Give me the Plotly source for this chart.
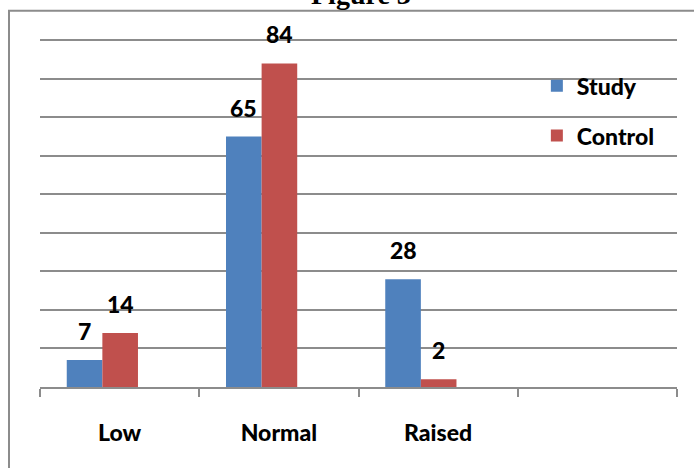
import plotly.graph_objects as go

# Category names and series values
categories = ["Low", "Normal", "Raised"]
study = [7, 65, 28]
control = [14, 84, 2]
n_slots = 4  # fourth slot on the axis is left empty

BLUE = "#4F81BD"
RED = "#C0504D"
GRID = "#8C8C8C"
FONT = "Lato"
WEIGHT = 900

centers = [i + 0.5 for i in range(len(categories))]
bar_w = 0.2236
off_study = -0.332
off_control = off_study + bar_w

fig = go.Figure()
fig.add_trace(go.Bar(
    name="Study", x=centers, y=study, width=bar_w, offset=off_study,
    marker=dict(color=BLUE, line=dict(width=0)), legendgroup="a",
))
fig.add_trace(go.Bar(
    name="Control", x=centers, y=control, width=bar_w, offset=off_control,
    marker=dict(color=RED, line=dict(width=0)), legendgroup="b",
))

# Value labels above each bar
annotations = []
for vals, off in ((study, off_study), (control, off_control)):
    for c, v in zip(centers, vals):
        annotations.append(dict(
            x=c + off + bar_w / 2, y=v, xref="x", yref="y",
            text=str(v), showarrow=False, yanchor="bottom", yshift=13,
            font=dict(family=FONT, size=23, color="black", weight=WEIGHT),
        ))

# Caption above the frame, clipped by the page top
annotations.append(dict(
    x=(361 - 40) / 637, y=1, xref="paper", yref="paper", xanchor="center",
    yanchor="bottom", yshift=26, text="Figure 3", showarrow=False,
    font=dict(family="Liberation Serif", size=28, color="black", weight="bold"),
))

fig.update_layout(
    width=694, height=468,
    margin=dict(l=40, r=17, t=38.2, b=80.5),
    paper_bgcolor="white", plot_bgcolor="white",
    barmode="overlay",
    showlegend=True,
    legend=dict(
        x=0.78, y=0.925, xanchor="left", yanchor="top",
        font=dict(family=FONT, size=23, color="black", weight=WEIGHT),
        tracegroupgap=17, bgcolor="rgba(0,0,0,0)", borderwidth=0,
    ),
    annotations=annotations,
    shapes=[dict(
        type="rect", xref="paper", yref="paper",
        x0=(9 - 40) / 637, x1=1.2, y0=-0.4, y1=(387.5 - 11) / 349.3,
        line=dict(color=GRID, width=2), fillcolor="rgba(0,0,0,0)", layer="below",
    )],
    xaxis=dict(
        range=[0, n_slots],
        tickvals=centers, ticktext=categories, ticks="",
        ticklabelstandoff=25,
        tickfont=dict(family=FONT, size=23, color="black", weight=WEIGHT),
        showgrid=False, zeroline=False,
        showline=True, linecolor=GRID, linewidth=1.5,
        minor=dict(tickvals=list(range(n_slots + 1)), ticks="outside",
                   ticklen=8, tickwidth=1.5, tickcolor=GRID, showgrid=False),
    ),
    yaxis=dict(
        range=[0, 90.6], dtick=10, showticklabels=False, ticks="",
        showgrid=True, gridcolor=GRID, gridwidth=1.5,
        zeroline=False, showline=False,
    ),
)

fig.write_html("out.html")
